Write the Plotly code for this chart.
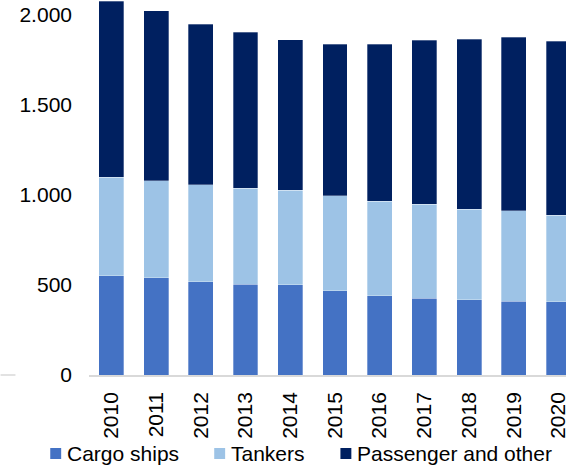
import plotly.graph_objects as go

years = ["2010", "2011", "2012", "2013", "2014", "2015", "2016", "2017", "2018", "2019", "2020"]
cargo_ships = [550, 539, 518, 504, 500, 468, 439, 426, 417, 411, 406]
tankers = [548, 539, 538, 533, 525, 528, 526, 522, 503, 502, 481]
passenger_other = [978, 944, 892, 867, 836, 841, 872, 911, 945, 963, 966]

series_names = ["Cargo ships", "Tankers", "Passenger and other"]
series_colors = ["#4472C4", "#9DC3E6", "#002060"]
y_ticks = [0, 500, 1000, 1500, 2000]
y_tick_text = ["0", "500", "1.000", "1.500", "2.000"]

FONT = "Liberation Sans, Arial, sans-serif"

fig = go.Figure()
for name, vals, col in zip(series_names, [cargo_ships, tankers, passenger_other], series_colors):
    fig.add_trace(go.Bar(
        x=years, y=vals, name=name,
        marker=dict(color=col, line=dict(color="rgba(255,255,255,0.5)", width=0.6)),
        showlegend=False,
    ))

# plot area is 480 px wide (l=89, r=0), 375 px tall (t=0, b=92)
PW, PH = 480.0, 375.0

def px_x(px):
    return (px - 89) / PW

def px_y(py):
    return (375 - py) / PH

# hand-made legend so spacing matches the original
legend_x = [50, 215, 342]
for lx, name, col in zip(legend_x, series_names, series_colors):
    fig.add_shape(type="rect", xref="paper", yref="paper",
                  x0=px_x(lx), x1=px_x(lx + 11), y0=px_y(459), y1=px_y(448),
                  fillcolor=col, line=dict(width=0))
    fig.add_annotation(text=name, xref="paper", yref="paper",
                       x=px_x(lx + 15), y=px_y(453), xanchor="left", yanchor="middle",
                       showarrow=False, font=dict(family=FONT, size=21, color="#000000"))

# small stray gridline stub at the far left
fig.add_shape(type="line", xref="paper", yref="paper",
              x0=px_x(0), x1=px_x(15), y0=0, y1=0,
              line=dict(color="#D9D9D9", width=1.5))

fig.update_layout(
    barmode="stack", bargap=0.444,
    width=569, height=467,
    margin=dict(l=89, r=0, t=0, b=92),
    paper_bgcolor="white", plot_bgcolor="white",
    font=dict(family=FONT, size=21, color="#000000"),
    xaxis=dict(
        type="category", range=[-0.5, 10.167],
        tickangle=-90, showgrid=False, ticks="",
        showline=True, linecolor="#D9D9D9", linewidth=1.5,
        ticklabelstandoff=7,
    ),
    yaxis=dict(
        range=[0, 2083], tickvals=y_ticks, ticktext=y_tick_text,
        showgrid=False, zeroline=False, showline=False, ticks="",
        ticklabelstandoff=16,
    ),
)

fig.write_html("out.html", config={"displayModeBar": False},
               post_script="document.body.style.margin='0';")
